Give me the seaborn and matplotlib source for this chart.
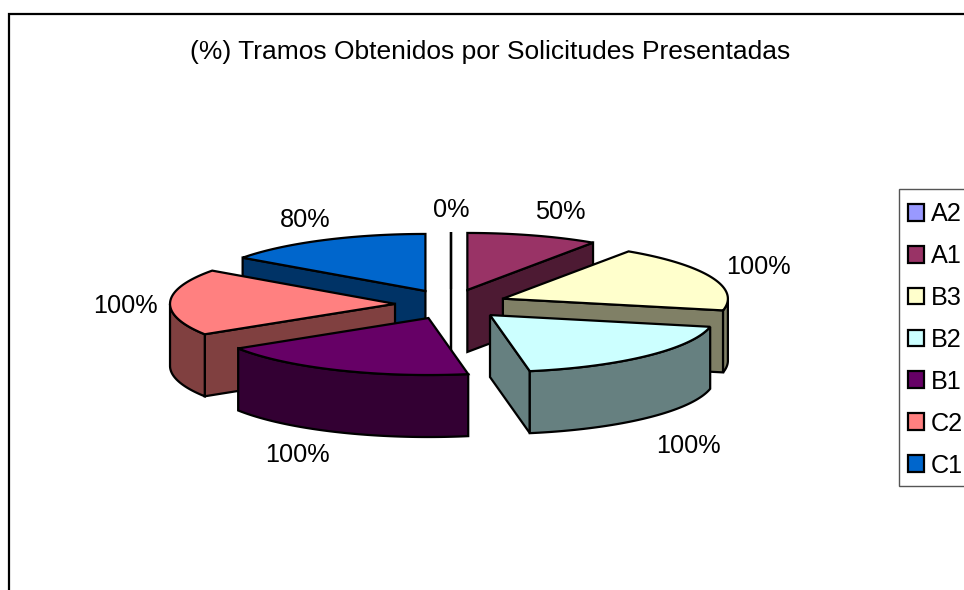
import numpy as np
import pandas as pd
import matplotlib
matplotlib.use("Agg")
import matplotlib.pyplot as plt
from matplotlib.patches import Patch, Polygon, Rectangle
import seaborn as sns


# ============================================================
# DATA
# ============================================================

TITLE = "(%) Tramos Obtenidos por Solicitudes Presentadas"
CATEGORIES = ["A2", "A1", "B3", "B2", "B1", "C2", "C1"]
PERCENTS = [0, 50, 100, 100, 100, 100, 80]
COLORS = ["#9999FF", "#993366", "#FFFFCC", "#CCFFFF", "#660066", "#FF8080", "#0066CC"]

# ============================================================
# LAYOUT (in pixels of the 964x590 picture)
# ============================================================

CX, CY = 451, 304.3
RX, RY = 225, 57
EXPLODE_X, EXPLODE_Y = 56, 15
DEPTH = 62
LABEL_XY = [(451, 210), (560, 212), (758, 267), (688, 446), (297, 455), (125, 306), (305, 220)]
FONT_SIZE = 18.2

sns.set_theme(style="white")
plt.rcParams["font.family"] = ["Liberation Sans", "DejaVu Sans"]

palette = sns.color_palette(COLORS)

df = pd.DataFrame({"cat": CATEGORIES, "pct": PERCENTS, "color": palette})
df["end"] = df["pct"].cumsum() / df["pct"].sum() * 2 * np.pi
df["start"] = df["end"].shift(1, fill_value=0.0)
df["mid"] = (df["start"] + df["end"]) / 2
df["apex_x"] = CX + EXPLODE_X * np.sin(df["mid"])
df["apex_y"] = CY - EXPLODE_Y * np.cos(df["mid"])


def rim(apex_x, apex_y, a0, a1):
    t = np.linspace(a0, a1, 80)
    return np.column_stack([apex_x + RX * np.sin(t), apex_y - RY * np.cos(t)])


def face(ax, pts, color, z):
    ax.add_patch(Polygon(pts, closed=True, facecolor=color, edgecolor="black",
                         linewidth=1.6, joinstyle="miter", zorder=z))


fig = plt.figure(figsize=(9.64, 5.90), dpi=100)
ax = fig.add_axes([0, 0, 1, 1])
ax.set_xlim(0, 964)
ax.set_ylim(590, 0)
ax.axis("off")

# chart frame, cut by the picture on the right and at the bottom
ax.plot([8.5, 8.5, 970], [600, 13.5, 13.5], color="black", lw=1.6, solid_joinstyle="miter")

# back slices first
z = 2
for _, row in df.sort_values("apex_y").iterrows():
    apex = np.array([row["apex_x"], row["apex_y"]])
    side = tuple(c * 0.5 for c in row["color"])
    down = np.array([0, DEPTH])

    if np.sin(row["start"]) < 0:
        p = rim(*apex, row["start"], row["start"])[0]
        face(ax, [apex, p, p + down, apex + down], side, z)
    if np.sin(row["end"]) >= 0:
        p = rim(*apex, row["end"], row["end"])[0]
        face(ax, [apex, p, p + down, apex + down], side, z)

    # outer wall only where it turns towards the viewer
    a0 = max(row["start"], np.pi / 2)
    a1 = min(row["end"], 3 * np.pi / 2)
    if a1 > a0:
        arc = rim(*apex, a0, a1)
        face(ax, np.vstack([arc, arc[::-1] + down]), side, z)

    arc = rim(*apex, row["start"], row["end"])
    face(ax, np.vstack([apex, arc]), row["color"], z)
    z += 1

for pct, (x, y) in zip(PERCENTS, LABEL_XY):
    ax.text(x, y, f"{pct}%", ha="center", va="center", fontsize=FONT_SIZE, color="black", zorder=20)

ax.text(490.5, 52, TITLE, ha="center", va="center", fontsize=19, color="black")

# legend box runs off the right edge of the picture, so it is drawn apart from the entries
ax.add_patch(Rectangle((899, 189), 80, 297, facecolor="white", edgecolor="#555555",
                       linewidth=1.0, zorder=29))
handles = [Patch(facecolor=c, edgecolor="black", linewidth=1.6) for c in palette]
leg = ax.legend(handles, CATEGORIES, loc="upper left", bbox_to_anchor=(908, 202),
                bbox_transform=ax.transData, fontsize=FONT_SIZE, frameon=False,
                handlelength=0.65, handleheight=0.65, handletextpad=0.24,
                labelspacing=0.71, borderpad=0, borderaxespad=0, labelcolor="black")
leg.set_zorder(30)

fig.savefig("out.png", dpi=100)
